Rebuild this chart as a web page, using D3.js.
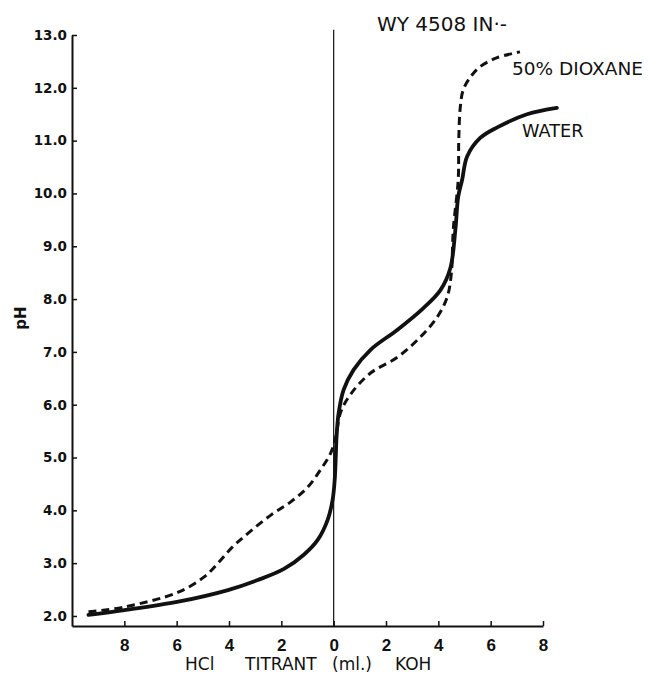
<!DOCTYPE html>
<html>
<head>
<meta charset="utf-8">
<script src="https://cdn.jsdelivr.net/npm/d3@7"></script>
<style>
  html, body { margin: 0; padding: 0; background: #fff; }
  svg { display: block; font-family: "DejaVu Sans", "Liberation Sans", Arial, sans-serif; }
</style>
</head>
<body>
<svg id="chart" width="648" height="675"></svg>
<script>
// Titration curves: pH against millilitres of titrant (HCl to the left of zero, KOH to the right)
const waterVol = [-9.37, -8.00, -5.94, -4.04, -2.90, -1.90, -1.14, -0.61, -0.23, -0.04, 0.04, 0.08, 0.11, 0.19, 0.38, 0.76, 1.41, 2.44, 3.43, 4.08, 4.46, 4.65, 4.76, 4.91, 5.10, 5.60, 6.25, 7.39, 8.53];
const waterPH  = [2.02, 2.11, 2.27, 2.49, 2.68, 2.89, 3.16, 3.44, 3.82, 4.20, 4.58, 5.00, 5.39, 5.84, 6.28, 6.66, 7.04, 7.42, 7.83, 8.17, 8.59, 9.31, 9.94, 10.26, 10.70, 11.05, 11.25, 11.50, 11.62];

const dioxaneVol = [-9.37, -8.00, -5.94, -4.95, -4.42, -3.92, -3.43, -2.40, -1.64, -0.99, -0.50, -0.11, 0.08, 0.27, 0.65, 1.41, 2.44, 3.31, 3.96, 4.34, 4.50, 4.57, 4.76, 4.78, 4.84, 4.95, 5.22, 5.60, 6.25, 7.12];
const dioxanePH  = [2.08, 2.17, 2.45, 2.74, 3.00, 3.28, 3.50, 3.91, 4.16, 4.44, 4.77, 5.09, 5.39, 5.86, 6.20, 6.60, 6.90, 7.28, 7.66, 8.04, 8.50, 9.31, 10.26, 11.00, 11.64, 11.96, 12.20, 12.40, 12.57, 12.68];

const yTicks = [2, 3, 4, 5, 6, 7, 8, 9, 10, 11, 12, 13];
const xTicks = [-8, -6, -4, -2, 0, 2, 4, 6, 8];

const svg = d3.select("#chart");

const x = d3.scaleLinear().domain([-10, 8]).range([72, 543]);
const y = d3.scaleLinear().domain([1.81, 13]).range([626, 35]);

// zero-titrant reference line
svg.append("line")
  .attr("x1", x(0)).attr("x2", x(0))
  .attr("y1", y(13.1)).attr("y2", y(1.81))
  .attr("stroke", "#111").attr("stroke-width", 1.2);

// y axis (ticks point inward)
const yAxis = d3.axisLeft(y)
  .tickValues(yTicks)
  .tickFormat(d => d.toFixed(1))
  .tickSizeInner(-5)
  .tickSizeOuter(0)
  .tickPadding(5);

const gy = svg.append("g").attr("transform", `translate(${x(-10)},0)`).call(yAxis);
gy.select(".domain").attr("stroke", "#111").attr("stroke-width", 2);
gy.selectAll(".tick line").attr("stroke", "#111").attr("stroke-width", 1.5);
gy.selectAll(".tick text")
  .attr("fill", "#111")
  .style("font-family", "'DejaVu Sans', sans-serif")
  .style("font-size", "13.5px")
  .style("font-weight", "bold");

// x axis (labels show magnitude of titrant on both sides)
const xAxis = d3.axisBottom(x)
  .tickValues(xTicks)
  .tickFormat(d => Math.abs(d))
  .tickSizeInner(-5)
  .tickSizeOuter(0)
  .tickPadding(13);

const gx = svg.append("g").attr("transform", `translate(0,${y(1.81)})`).call(xAxis);
gx.select(".domain").attr("stroke", "#111").attr("stroke-width", 2);
gx.selectAll(".tick line").attr("stroke", "#111").attr("stroke-width", 1.5);
gx.selectAll(".tick text")
  .attr("fill", "#111")
  .style("font-family", "'Liberation Sans', Arial, sans-serif")
  .style("font-size", "17px")
  .style("font-weight", "bold");

// axis titles
svg.append("text")
  .attr("transform", "translate(26,318) rotate(-90)")
  .attr("text-anchor", "middle")
  .attr("fill", "#111")
  .style("font-size", "15px")
  .style("font-weight", "bold")
  .text("pH");

const xt = svg.append("text")
  .attr("y", 670)
  .attr("fill", "#111")
  .style("font-size", "17px");
xt.append("tspan").attr("x", 185).text("HCl");
xt.append("tspan").attr("x", 245).text("TITRANT");
xt.append("tspan").attr("x", 332).text("(ml.)");
xt.append("tspan").attr("x", 395).text("KOH");

// curves
const line = d3.line()
  .x(d => x(d[0]))
  .y(d => y(d[1]))
  .curve(d3.curveCatmullRom.alpha(0.5));

const water = waterVol.map((v, i) => [v, waterPH[i]]);
const dioxane = dioxaneVol.map((v, i) => [v, dioxanePH[i]]);

svg.append("path")
  .datum(dioxane)
  .attr("d", line)
  .attr("fill", "none")
  .attr("stroke", "#111")
  .attr("stroke-width", 3)
  .attr("stroke-dasharray", "8,5");

svg.append("path")
  .datum(water)
  .attr("d", line)
  .attr("fill", "none")
  .attr("stroke", "#111")
  .attr("stroke-width", 3.8)
  .attr("stroke-linecap", "round");

// curve labels and title
svg.append("text")
  .attr("x", 377).attr("y", 31)
  .attr("fill", "#111")
  .style("font-size", "20px")
  .text("WY 4508 IN·-");

svg.append("text")
  .attr("x", 512).attr("y", 75)
  .attr("fill", "#111")
  .style("font-size", "18.5px")
  .text("50% DIOXANE");

svg.append("text")
  .attr("x", 522).attr("y", 137)
  .attr("fill", "#111")
  .style("font-size", "17.7px")
  .text("WATER");
</script>
</body>
</html>
